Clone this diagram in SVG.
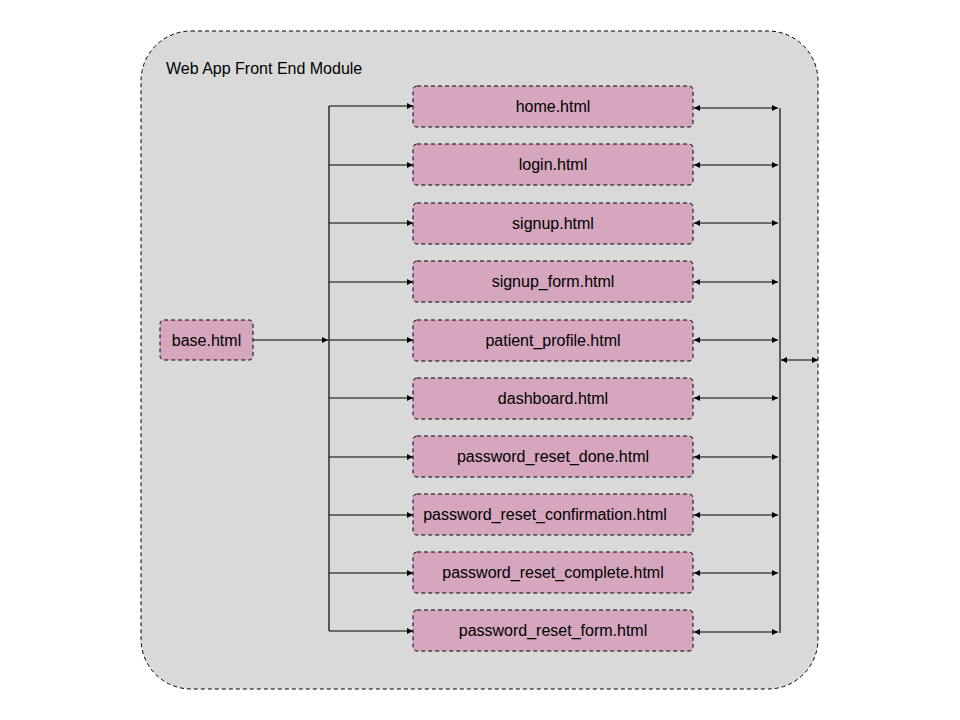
<svg xmlns="http://www.w3.org/2000/svg" width="960" height="720" viewBox="0 0 960 720">
<style>
.node rect{fill:#d5a6bd;stroke:#000;stroke-width:1;stroke-dasharray:4,3}
.node text{font-family:"Liberation Sans",Arial,sans-serif;font-size:16px;fill:#000;text-anchor:middle;dominant-baseline:central}
.ln{stroke:#000;stroke-width:1.2;fill:none}
</style>
<defs>
<marker id="ah" viewBox="0 0 10 10" refX="10" refY="5" markerWidth="8" markerHeight="6" markerUnits="userSpaceOnUse" orient="auto-start-reverse">
<path d="M0,0 L10,5 L0,10 z" fill="#000"/>
</marker>
</defs>
<rect width="960" height="720" fill="#fff"/>
<g id="module">
<rect x="141" y="31" width="677" height="658" rx="50" ry="50" fill="#d9d9d9" stroke="#000" stroke-width="1" stroke-dasharray="4,3"/>
<text x="166" y="74" font-family="Liberation Sans,Arial,sans-serif" font-size="16" fill="#000">Web App Front End Module</text>
</g>
<g id="connectors">
<line class="ln" x1="253" y1="340" x2="328" y2="340" marker-end="url(#ah)"/>
<line class="ln" x1="329" y1="106" x2="329" y2="631"/>
<line class="ln" x1="329" y1="106" x2="413" y2="106" marker-end="url(#ah)"/>
<line class="ln" x1="329" y1="165" x2="413" y2="165" marker-end="url(#ah)"/>
<line class="ln" x1="329" y1="223" x2="413" y2="223" marker-end="url(#ah)"/>
<line class="ln" x1="329" y1="282" x2="413" y2="282" marker-end="url(#ah)"/>
<line class="ln" x1="329" y1="340" x2="413" y2="340" marker-end="url(#ah)"/>
<line class="ln" x1="329" y1="398" x2="413" y2="398" marker-end="url(#ah)"/>
<line class="ln" x1="329" y1="457" x2="413" y2="457" marker-end="url(#ah)"/>
<line class="ln" x1="329" y1="515" x2="413" y2="515" marker-end="url(#ah)"/>
<line class="ln" x1="329" y1="573" x2="413" y2="573" marker-end="url(#ah)"/>
<line class="ln" x1="329" y1="631" x2="413" y2="631" marker-end="url(#ah)"/>
<line x1="780" y1="108" x2="780" y2="633" stroke="#333" stroke-width="1.5"/>
<line class="ln" x1="694" y1="108" x2="778" y2="108" marker-start="url(#ah)" marker-end="url(#ah)"/>
<line class="ln" x1="694" y1="165" x2="778" y2="165" marker-start="url(#ah)" marker-end="url(#ah)"/>
<line class="ln" x1="694" y1="223" x2="778" y2="223" marker-start="url(#ah)" marker-end="url(#ah)"/>
<line class="ln" x1="694" y1="282" x2="778" y2="282" marker-start="url(#ah)" marker-end="url(#ah)"/>
<line class="ln" x1="694" y1="340" x2="778" y2="340" marker-start="url(#ah)" marker-end="url(#ah)"/>
<line class="ln" x1="694" y1="398" x2="778" y2="398" marker-start="url(#ah)" marker-end="url(#ah)"/>
<line class="ln" x1="694" y1="457" x2="778" y2="457" marker-start="url(#ah)" marker-end="url(#ah)"/>
<line class="ln" x1="694" y1="515" x2="778" y2="515" marker-start="url(#ah)" marker-end="url(#ah)"/>
<line class="ln" x1="694" y1="573" x2="778" y2="573" marker-start="url(#ah)" marker-end="url(#ah)"/>
<line class="ln" x1="694" y1="632" x2="778" y2="632" marker-start="url(#ah)" marker-end="url(#ah)"/>
<line class="ln" x1="781" y1="360" x2="818" y2="360" marker-start="url(#ah)" marker-end="url(#ah)"/>
</g>
<g id="base" class="node"><rect x="160" y="320" width="93" height="40" rx="4"/><text x="206.5" y="340">base.html</text></g>
<g id="home" class="node"><rect x="413" y="86" width="280" height="41" rx="4"/><text x="553" y="106.5">home.html</text></g>
<g id="login" class="node"><rect x="413" y="144" width="280" height="41" rx="4"/><text x="553" y="164.5">login.html</text></g>
<g id="signup" class="node"><rect x="413" y="203" width="280" height="41" rx="4"/><text x="553" y="223.5">signup.html</text></g>
<g id="signup_form" class="node"><rect x="413" y="261" width="280" height="41" rx="4"/><text x="553" y="281.5">signup_form.html</text></g>
<g id="patient_profile" class="node"><rect x="413" y="320" width="280" height="41" rx="4"/><text x="553" y="340.5">patient_profile.html</text></g>
<g id="dashboard" class="node"><rect x="413" y="378" width="280" height="41" rx="4"/><text x="553" y="398.5">dashboard.html</text></g>
<g id="password_reset_done" class="node"><rect x="413" y="436" width="280" height="41" rx="4"/><text x="553" y="456.5">password_reset_done.html</text></g>
<g id="password_reset_confirmation" class="node"><rect x="413" y="494" width="280" height="41" rx="4"/><text x="545" y="514.5">password_reset_confirmation.html</text></g>
<g id="password_reset_complete" class="node"><rect x="413" y="552" width="280" height="41" rx="4"/><text x="553" y="572.5">password_reset_complete.html</text></g>
<g id="password_reset_form" class="node"><rect x="413" y="610" width="280" height="41" rx="4"/><text x="553" y="630.5">password_reset_form.html</text></g>
</svg>
